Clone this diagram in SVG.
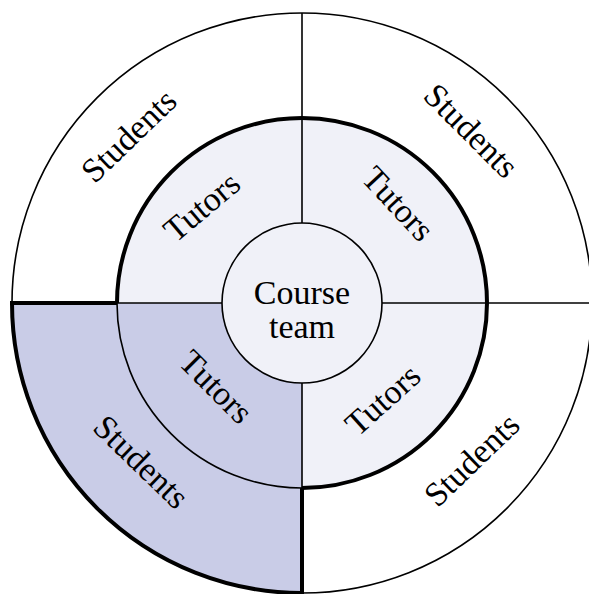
<svg xmlns="http://www.w3.org/2000/svg" width="589" height="594" viewBox="0 0 589 594">
<style>
.thin{fill:none;stroke:#000;stroke-width:1.6}
.thick{fill:none;stroke:#000;stroke-width:4}
.lbl{font-family:"Liberation Serif","Times New Roman",serif;font-size:34px;fill:#000;text-anchor:middle}
</style>
<rect width="589" height="594" fill="#fff"/>
<g id="students-ring">
<circle cx="302" cy="303" r="290" fill="#fff" class="thin"/>
<path d="M302,303 L12,303 A290,290 0 0,0 302,593 Z" fill="#c9cce7"/>
</g>
<g id="tutors-ring">
<circle cx="302" cy="303" r="185" fill="#f0f1f8" stroke="none"/>
<path d="M302,303 L117,303 A185,185 0 0,0 302,488 Z" fill="#c9cce7"/>
<path d="M117,303 A185,185 0 0,0 302,488" class="thin"/>
<path d="M302,488 A185,185 0 1,0 117,303" class="thick"/>
</g>
<g id="connectors">
<line x1="302" y1="13" x2="302" y2="223" class="thin"/>
<line x1="302" y1="383" x2="302" y2="488" class="thin"/>
<line x1="302" y1="488" x2="302" y2="594" class="thick"/>
<line x1="10" y1="303" x2="117" y2="303" class="thick"/>
<line x1="117" y1="303" x2="222" y2="303" class="thin"/>
<line x1="382" y1="303" x2="589" y2="303" class="thin"/>
<path d="M12,303 A290,290 0 0,0 302,593" class="thick"/>
</g>
<g id="course-team">
<circle cx="302" cy="303" r="80" class="thin" style="fill:#f0f1f8"/>
<text class="lbl" x="302" y="304">Course</text>
<text class="lbl" x="302" y="338">team</text>
</g>
<g id="labels-students">
<text class="lbl" transform="translate(129,136) rotate(-44)" dy="11">Students</text>
<text class="lbl" transform="translate(471,131) rotate(45)" dy="11">Students</text>
<text class="lbl" transform="translate(141,462) rotate(44)" dy="11">Students</text>
<text class="lbl" transform="translate(472,460) rotate(-44)" dy="11">Students</text>
</g>
<g id="labels-tutors">
<text class="lbl" transform="translate(202,207) rotate(-40)" dy="11">Tutors</text>
<text class="lbl" transform="translate(398,204) rotate(47)" dy="11">Tutors</text>
<text class="lbl" transform="translate(216,387) rotate(45)" dy="11">Tutors</text>
<text class="lbl" transform="translate(383,400) rotate(-42)" dy="11">Tutors</text>
</g>
</svg>
